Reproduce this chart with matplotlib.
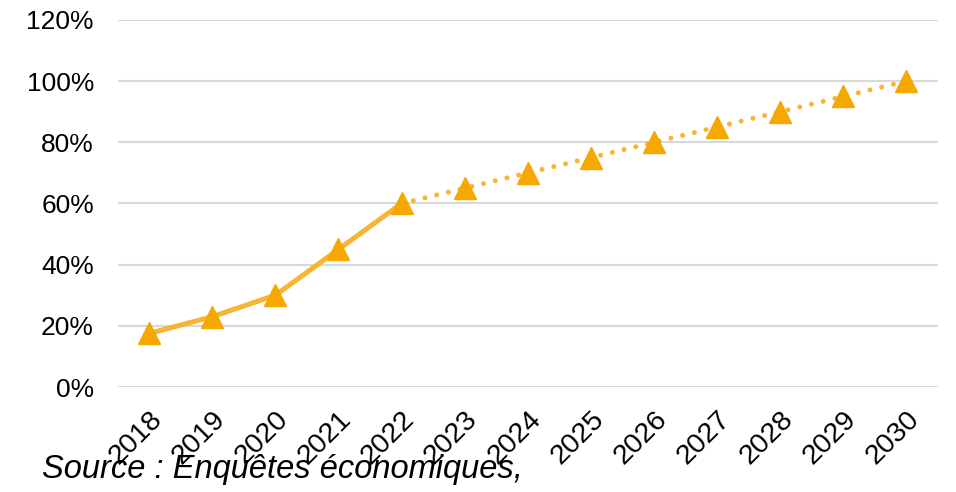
import matplotlib.pyplot as plt
from matplotlib.ticker import PercentFormatter

plt.rcParams['font.family'] = ['Liberation Sans', 'DejaVu Sans']

years = ["2018", "2019", "2020", "2021", "2022", "2023", "2024",
         "2025", "2026", "2027", "2028", "2029", "2030"]
values = [17.5, 23, 30, 45, 60, 65, 70, 75, 80, 85, 90, 95, 100]
# 2018-2022 observed, 2022-2030 projected
n_obs = 5

LINE_COLOR = "#F8B532"
MARKER_COLOR = "#F5A800"

fig = plt.figure(figsize=(9.56, 4.92), dpi=100)
ax = fig.add_axes([0.123, 0.2134, 0.858, 0.746])

x = list(range(len(years)))
ax.plot(x[:n_obs], values[:n_obs], color=LINE_COLOR, lw=3.6,
        solid_capstyle="round", zorder=3)
ax.plot(x[n_obs - 1:], values[n_obs - 1:], color=LINE_COLOR, lw=3.6,
        linestyle=(0, (0.01, 2.4)), dash_capstyle="round", zorder=3)
ax.plot(x, values, linestyle="none", marker="^", markersize=16,
        color=MARKER_COLOR, zorder=4)

ax.set_xlim(-0.5, len(years) - 0.5)
ax.set_ylim(0, 120)
ax.set_yticks(range(0, 121, 20))
ax.yaxis.set_major_formatter(PercentFormatter(decimals=0))
ax.set_xticks(x)
ax.set_xticklabels(years, rotation=45, ha="right", va="top",
                   rotation_mode="anchor")
ax.tick_params(axis="both", length=0, colors="black")
ax.tick_params(axis="y", labelsize=19, pad=17)
ax.tick_params(axis="x", labelsize=20.5, pad=14)

ax.grid(axis="y", color="#D9D9D9", lw=1.5)
ax.set_axisbelow(True)
for s in ax.spines.values():
    s.set_visible(False)

fig.text(0.044, 0.028, "Source : Enquêtes économiques,", fontsize=23.5,
         style="italic")

fig.savefig("out.png", dpi=100)
